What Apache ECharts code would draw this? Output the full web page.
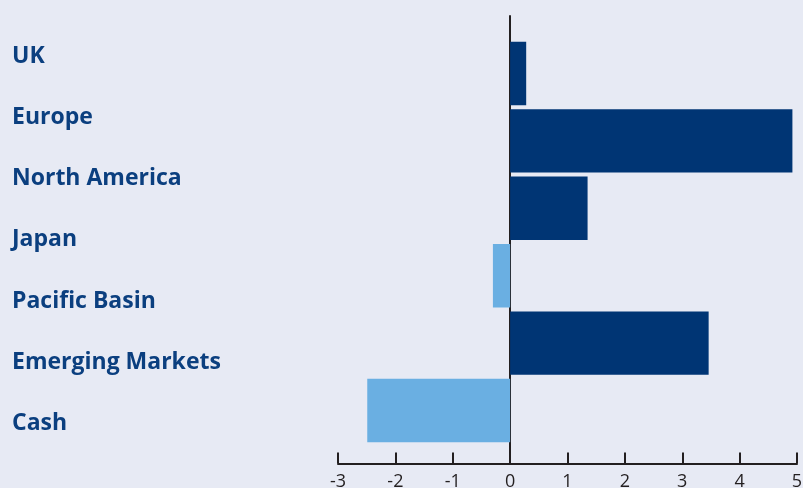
<!DOCTYPE html>
<html>
<head>
<meta charset="utf-8">
<script src="https://cdn.jsdelivr.net/npm/echarts@6/dist/echarts.min.js"></script>
<style>
html,body{margin:0;padding:0;background:#e7eaf4;}
#chart{width:803px;height:488px;}
</style>
</head>
<body>
<div id="chart"></div>
<script>
const categories = ['UK', 'Europe', 'North America', 'Japan', 'Pacific Basin', 'Emerging Markets', 'Cash'];
const values = [0.28, 4.92, 1.35, 0, -0.3, 3.46, -2.49];
const xTicks = [-3, -2, -1, 0, 1, 2, 3, 4, 5];

const barCats = categories.filter((c, i) => values[i] !== 0);
const barVals = values.filter(v => v !== 0);

const DARK = '#003574';
const LIGHT = '#6aafe2';
const LABEL = '#0b3f7f';
const AXIS = '#231f20';

const chart = echarts.init(document.getElementById('chart'));
chart.setOption({
  backgroundColor: '#e7eaf4',
  animation: false,
  grid: [
    { left: 338, right: 6, top: 16, bottom: 24.5, containLabel: false, outerBoundsMode: 'none' },    // axes
    { left: 338, right: 6, top: 39.8, bottom: 43.8, containLabel: false, outerBoundsMode: 'none' },  // bars
    { left: 12, right: 470, top: 25.9, bottom: 34.1, containLabel: false, outerBoundsMode: 'none' }  // labels
  ],
  xAxis: [
    {
      gridIndex: 0, type: 'value', min: xTicks[0], max: xTicks[xTicks.length - 1], interval: 1,
      axisLine: { show: true, lineStyle: { color: AXIS, width: 2 } },
      axisTick: { show: true, inside: true, length: 11, lineStyle: { color: AXIS, width: 2 } },
      splitLine: { show: false },
      axisLabel: { color: AXIS, fontSize: 18, fontFamily: 'Open Sans', margin: 9 }
    },
    {
      gridIndex: 1, type: 'value', min: xTicks[0], max: xTicks[xTicks.length - 1], interval: 1,
      show: false
    },
    { gridIndex: 2, type: 'value', show: false }
  ],
  yAxis: [
    {
      gridIndex: 0, type: 'value', min: 0, max: 1,
      axisLine: { show: true, onZero: true, lineStyle: { color: AXIS, width: 2 } },
      axisTick: { show: false }, axisLabel: { show: false }, splitLine: { show: false }
    },
    {
      gridIndex: 1, type: 'category', data: barCats, inverse: true, show: false
    },
    {
      gridIndex: 2, type: 'category', data: categories, inverse: true,
      axisLine: { show: false }, axisTick: { show: false },
      axisLabel: {
        inside: true, margin: 0, color: LABEL, fontSize: 23, fontWeight: 'bold',
        fontFamily: 'Open Sans'
      }
    }
  ],
  series: [
    {
      type: 'bar', xAxisIndex: 1, yAxisIndex: 1, barWidth: '94%',
      data: barVals.map(v => ({ value: v, itemStyle: { color: v >= 0 ? DARK : LIGHT } })),
      z: 1
    }
  ]
});
</script>
</body>
</html>
